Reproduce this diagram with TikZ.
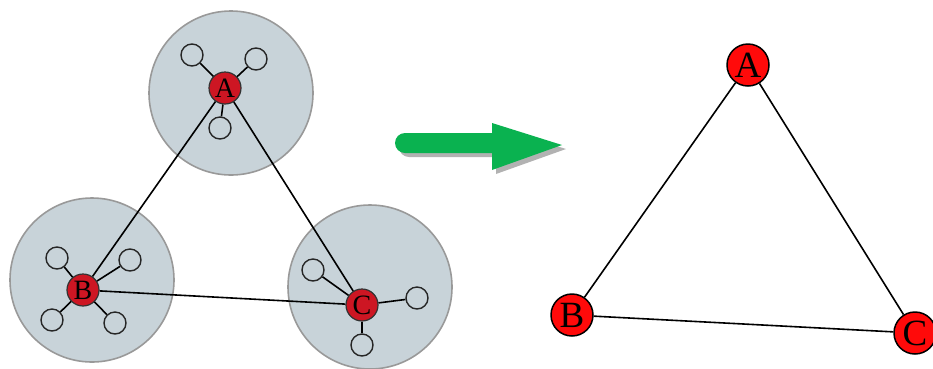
\documentclass[tikz,border=0pt]{standalone}
\usepackage{fontspec}
\setmainfont{Liberation Serif}
\usetikzlibrary{arrows, arrows.meta}
\definecolor{clustergray}{RGB}{200,211,217}
\definecolor{hubred}{RGB}{205,22,35}
\definecolor{nodered}{RGB}{255,10,10}
\definecolor{arrowgreen}{RGB}{10,178,80}
\tikzset{cluster/.style={circle, fill=clustergray, draw=gray!80, minimum size=164pt, inner sep=0pt}}
\tikzset{hub/.style={circle, fill=hubred, draw=black!80, line width=1.2pt, minimum size=32pt,
         inner sep=0pt, font=\fontsize{28}{28}\selectfont}}
\tikzset{leaf/.style={circle, draw=black!85, line width=1.4pt, minimum size=22pt, inner sep=0pt}}
\tikzset{vertex/.style={circle, fill=nodered, draw=black, line width=1.5pt, minimum size=42pt,
         inner sep=0pt, font=\fontsize{37}{37}\selectfont}}

\begin{document}
\begin{tikzpicture}[x=1pt, y=-1pt, line width=1.6pt]
    \useasboundingbox (0,0) rectangle (933,368);
    % the three clusters
    \node[cluster] (clA) at (231,93) {};
    \node[cluster] (clB) at (92,280) {};
    \node[cluster] (clC) at (370,287) {};

    % leaves of each cluster
    \foreach \name/\x/\y in {a1/192/55, a2/256/59, a3/220/128,
                             b1/57/258, b2/130/260, b3/52/320, b4/115/323,
                             c1/313/270, c2/417/298, c3/362/345}
      \node[leaf] (\name) at (\x,\y) {};

    \node[hub] (hA) at (225,88) {A};
    \node[hub] (hB) at (83,290) {B};
    \node[hub] (hC) at (362,305) {C};

    \foreach \l in {a1, a2, a3}
      \draw (hA) -- (\l);
    \foreach \l in {b1, b2, b3, b4}
      \draw (hB) -- (\l);
    \foreach \l in {c1, c2, c3}
      \draw (hC) -- (\l);
    \draw (hA) -- (hB) (hA) -- (hC) (hB) -- (hC);

    % the green arrow and its shadow
    \fill[gray!60] (409,137) -- (496,137) -- (496,127) -- (566,149) -- (496,174) -- (496,157)
      -- (409,157) arc [start angle=90, end angle=270, radius=10] -- cycle;
    \fill[arrowgreen] (405,133) -- (492,133) -- (492,123) -- (562,145) -- (492,170) -- (492,153)
      -- (405,153) arc [start angle=90, end angle=270, radius=10] -- cycle;

    % the reduced graph
    \node[vertex] (A) at (748,65) {A};
    \node[vertex] (B) at (572,315) {B};
    \node[vertex] (C) at (915,333) {C};
    \draw (A) -- (B) -- (C) -- (A);
  \end{tikzpicture}
\end{document}
